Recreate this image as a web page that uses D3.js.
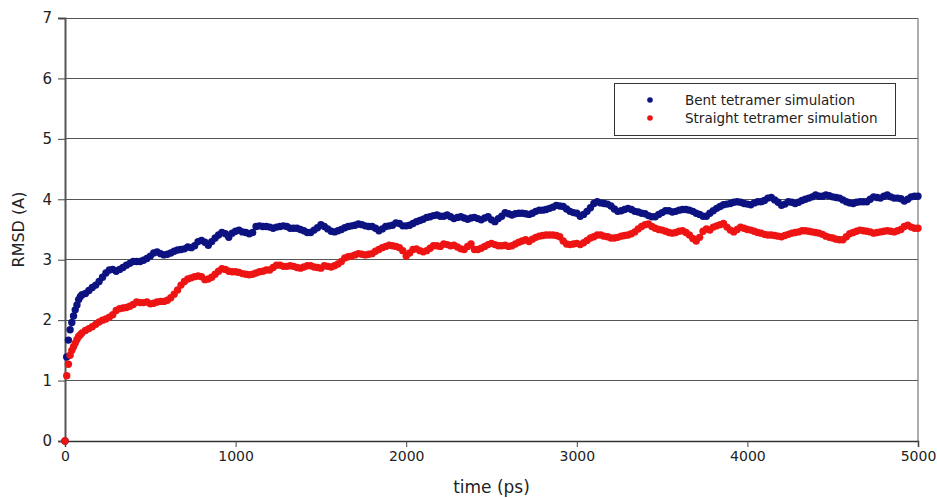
<!DOCTYPE html>
<html><head><meta charset="utf-8">
<script src="https://cdn.jsdelivr.net/npm/d3@7"></script>
<style>body{margin:0;background:#fff}svg{display:block}text{font-family:"DejaVu Sans",sans-serif}</style>
</head><body>
<svg id="chart" width="937" height="498"></svg>
<script>
const time = [...d3.range(0, 101, 10), ...d3.range(120, 5001, 20)];
const bent = [0,1.39,1.67,1.84,1.96,2.07,2.17,2.25,2.34,2.39,2.42,
2.44,2.49,2.54,2.58,2.64,2.71,2.78,2.83,2.84,2.81,
2.84,2.87,2.91,2.94,2.97,2.97,2.97,2.99,3.02,3.06,
3.11,3.13,3.10,3.08,3.09,3.11,3.14,3.16,3.17,3.18,
3.21,3.20,3.23,3.30,3.32,3.29,3.24,3.30,3.36,3.41,
3.45,3.43,3.37,3.44,3.47,3.49,3.46,3.45,3.43,3.45,
3.55,3.56,3.55,3.55,3.54,3.52,3.54,3.55,3.56,3.55,
3.52,3.52,3.52,3.50,3.48,3.45,3.45,3.49,3.53,3.58,
3.55,3.51,3.47,3.46,3.48,3.50,3.53,3.55,3.56,3.57,
3.59,3.58,3.56,3.55,3.55,3.52,3.48,3.51,3.55,3.56,
3.57,3.61,3.60,3.56,3.56,3.57,3.60,3.63,3.65,3.67,
3.70,3.71,3.73,3.74,3.72,3.72,3.74,3.71,3.68,3.70,
3.71,3.69,3.67,3.69,3.70,3.68,3.66,3.69,3.71,3.66,
3.63,3.68,3.72,3.78,3.76,3.74,3.76,3.77,3.77,3.76,
3.75,3.77,3.80,3.82,3.82,3.83,3.85,3.87,3.90,3.89,
3.88,3.84,3.80,3.78,3.77,3.72,3.75,3.80,3.86,3.93,
3.96,3.94,3.93,3.92,3.89,3.84,3.80,3.81,3.83,3.85,
3.83,3.80,3.79,3.77,3.76,3.73,3.71,3.71,3.75,3.78,
3.81,3.81,3.79,3.80,3.82,3.83,3.83,3.82,3.80,3.77,
3.75,3.72,3.72,3.77,3.81,3.85,3.88,3.91,3.92,3.93,
3.95,3.96,3.95,3.93,3.92,3.91,3.94,3.96,3.96,3.98,
4.02,4.03,3.99,3.95,3.90,3.92,3.96,3.95,3.93,3.95,
3.98,4.00,4.02,4.04,4.07,4.05,4.05,4.07,4.06,4.04,
4.03,4.02,3.99,3.96,3.94,3.93,3.95,3.96,3.96,3.96,
4.00,4.04,4.03,4.02,4.05,4.07,4.04,4.02,4.02,4.01,
3.97,4.00,4.04,4.05,4.05];
const straight = [0,1.08,1.27,1.42,1.50,1.56,1.62,1.68,1.73,1.76,1.79,
1.83,1.86,1.89,1.93,1.97,2.00,2.02,2.05,2.09,2.16,
2.19,2.20,2.21,2.23,2.26,2.30,2.29,2.29,2.30,2.27,
2.28,2.30,2.31,2.31,2.33,2.37,2.43,2.50,2.58,2.64,
2.68,2.70,2.72,2.73,2.72,2.67,2.68,2.71,2.76,2.81,
2.85,2.84,2.81,2.80,2.80,2.79,2.77,2.76,2.75,2.76,
2.78,2.80,2.81,2.83,2.83,2.87,2.91,2.91,2.89,2.89,
2.90,2.89,2.87,2.86,2.88,2.90,2.90,2.88,2.87,2.86,
2.90,2.89,2.88,2.90,2.93,2.97,3.03,3.05,3.06,3.08,
3.10,3.09,3.08,3.09,3.10,3.14,3.17,3.20,3.22,3.24,
3.23,3.22,3.20,3.15,3.06,3.11,3.17,3.18,3.15,3.13,
3.15,3.19,3.23,3.23,3.22,3.26,3.25,3.23,3.24,3.21,
3.18,3.17,3.22,3.26,3.17,3.17,3.19,3.22,3.25,3.27,
3.25,3.23,3.23,3.24,3.22,3.23,3.26,3.29,3.31,3.33,
3.30,3.34,3.37,3.39,3.40,3.41,3.41,3.41,3.40,3.38,
3.31,3.26,3.25,3.26,3.27,3.25,3.28,3.32,3.36,3.38,
3.41,3.41,3.39,3.38,3.36,3.36,3.37,3.39,3.40,3.41,
3.43,3.46,3.51,3.55,3.58,3.59,3.55,3.52,3.50,3.49,
3.47,3.45,3.44,3.45,3.47,3.48,3.45,3.41,3.35,3.31,
3.37,3.47,3.51,3.49,3.54,3.56,3.58,3.60,3.54,3.49,
3.46,3.50,3.54,3.52,3.50,3.49,3.47,3.45,3.44,3.42,
3.41,3.41,3.40,3.39,3.38,3.40,3.42,3.44,3.45,3.46,
3.48,3.48,3.47,3.46,3.45,3.44,3.42,3.39,3.37,3.36,
3.34,3.33,3.33,3.38,3.43,3.45,3.47,3.49,3.48,3.47,
3.46,3.44,3.45,3.46,3.47,3.48,3.47,3.46,3.48,3.50,
3.55,3.57,3.54,3.52,3.52];
const xTicks = [0, 1000, 2000, 3000, 4000, 5000];
const yTicks = [0, 1, 2, 3, 4, 5, 6, 7];
const seriesNames = ["Bent tetramer simulation", "Straight tetramer simulation"];
const seriesColors = ["#0c1280", "#ee1414"];

const svg = d3.select("#chart");
const m = {left: 65, right: 19, top: 18, bottom: 57};
const W = 937, H = 498;
const x = d3.scaleLinear().domain([0, 5000]).range([m.left, W - m.right]);
const y = d3.scaleLinear().domain([0, 7]).range([H - m.bottom, m.top]);

// gridlines
svg.append("g").selectAll("line").data(yTicks.filter(d => d > 0)).join("line")
  .attr("x1", m.left).attr("x2", W - m.right)
  .attr("y1", d => y(d)).attr("y2", d => y(d))
  .attr("stroke", "#555").attr("stroke-width", 1).attr("shape-rendering", "crispEdges");
// right border
svg.append("line").attr("x1", W - m.right).attr("x2", W - m.right)
  .attr("y1", m.top).attr("y2", H - m.bottom).attr("stroke", "#777").attr("stroke-width", 1.2);

// axes
const yAxis = svg.append("g").attr("transform", `translate(${m.left},0)`)
  .call(d3.axisLeft(y).tickValues(yTicks).tickSize(7).tickPadding(6).tickFormat(d3.format("d")));
yAxis.select(".domain").attr("stroke", "#555").attr("stroke-width", 2);
yAxis.selectAll(".tick line").attr("stroke", "#444");
yAxis.selectAll("text").attr("font-size", 15).attr("fill", "#222");

const xAxis = svg.append("g").attr("transform", `translate(0,${H - m.bottom})`)
  .call(d3.axisBottom(x).tickValues(xTicks).tickSize(6).tickPadding(4).tickFormat(d3.format("d")));
xAxis.select(".domain").attr("stroke", "#333").attr("stroke-width", 1.5);
xAxis.selectAll(".tick line").attr("stroke", "#444");
xAxis.selectAll("text").attr("font-size", 14).attr("fill", "#222");

// points
const series = [bent, straight];
series.forEach((vals, i) => {
  const pts = time.slice(0, vals.length).map((t, j) => [t, vals[j]]);
  svg.append("g").selectAll("circle").data(pts).join("circle")
    .attr("cx", d => x(d[0])).attr("cy", d => y(d[1])).attr("r", 3.7)
    .attr("fill", seriesColors[i]);
});

// axis titles
svg.append("text").attr("x", x(2500)).attr("y", 493).attr("text-anchor", "middle")
  .attr("font-size", 17).attr("fill", "#222").text("time (ps)");
svg.append("text").attr("transform", `translate(24,${y(3.5)}) rotate(-90)`)
  .attr("text-anchor", "middle").attr("font-size", 16).attr("fill", "#222").text("RMSD (A)");

// legend
const lg = svg.append("g");
lg.append("rect").attr("x", 614.5).attr("y", 83.5).attr("width", 281).attr("height", 52)
  .attr("fill", "#fff").attr("stroke", "#333").attr("stroke-width", 1);
seriesNames.forEach((n, i) => {
  lg.append("circle").attr("cx", 650).attr("cy", 100 + i * 18).attr("r", 2.8).attr("fill", seriesColors[i]);
  lg.append("text").attr("x", 685).attr("y", 105 + i * 18).attr("font-size", 13.5).attr("fill", "#222").text(n);
});
</script>
</body></html>
